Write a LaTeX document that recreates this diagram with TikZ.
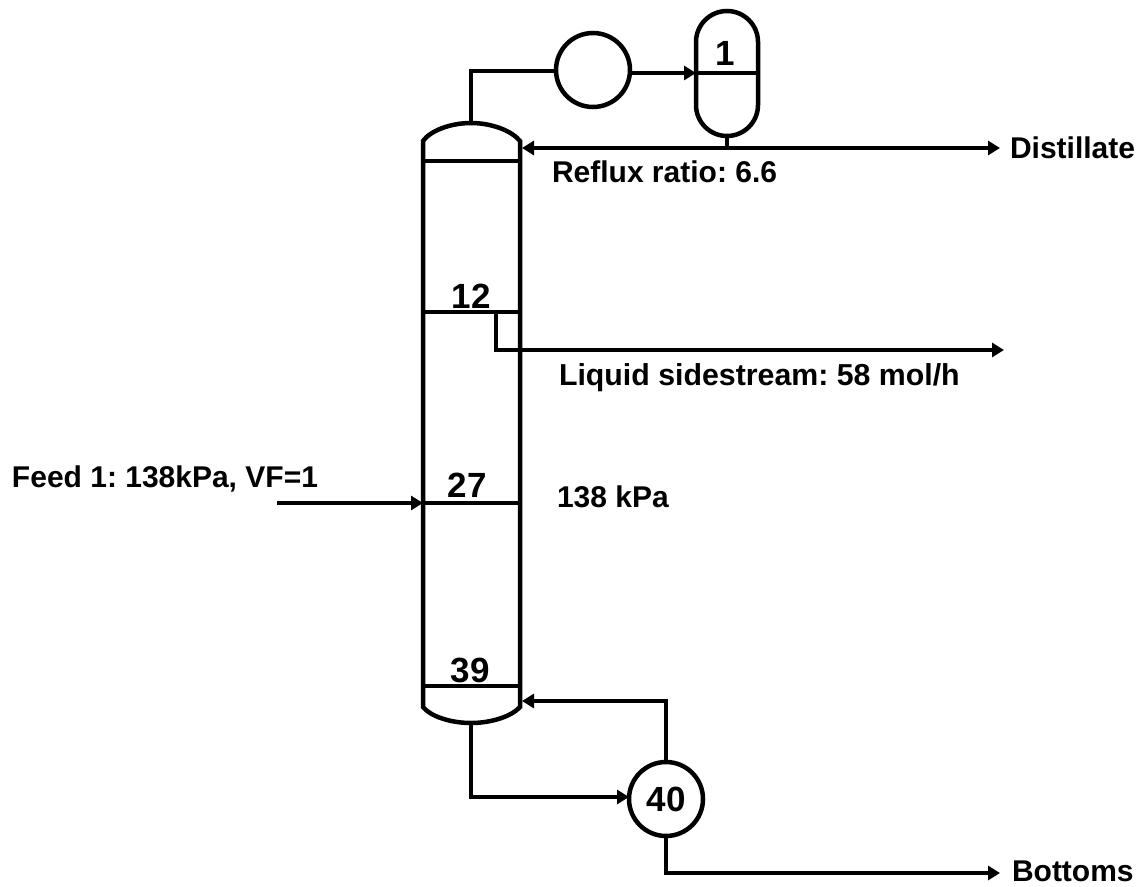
\documentclass[tikz,border=0pt]{standalone}
\usepackage{fontspec}
\setmainfont{Liberation Sans}
\usetikzlibrary{arrows.meta}
\tikzset{
  x=1pt,y=-1pt,
  unit/.style={line width=4.5pt,line join=miter},
  pipe/.style={line width=4.4pt,line join=miter},
  flow/.style={pipe,-{Triangle[length=12pt,width=14pt]}},
  exch/.style={circle,draw,line width=4.5pt,minimum size=74pt,inner sep=0pt,outer sep=0pt,font=\fontsize{35}{35}\bfseries},
  lab/.style={inner sep=0pt,outer sep=0pt,anchor=base west,font=\fontsize{30}{30}\bfseries},
  traylab/.style={inner sep=0pt,outer sep=0pt,anchor=base,font=\fontsize{35}{35}\bfseries}
}
\frenchspacing
\begin{document}
\begin{tikzpicture}
\useasboundingbox (0,0) rectangle (1140,886);
% column
\coordinate (colT) at (471,123);
\coordinate (colB) at (471,723);
\draw[unit] (423,161) -- (423,141) .. controls (430,131) and (450,123) .. (colT) .. controls (492,123) and (512,131) .. (520,141) -- (520,707) .. controls (512,716) and (492,723) .. (colB) .. controls (450,723) and (430,716) .. (423,707) -- cycle;
\coordinate (t1L) at (423,161); \coordinate (t1R) at (520,161);
\coordinate (t12L) at (423,312); \coordinate (t12R) at (520,312);
\coordinate (t27L) at (423,503); \coordinate (t27R) at (520,503);
\coordinate (t39L) at (423,686); \coordinate (t39R) at (520,686);
\draw[unit] (t1L) -- (t1R) (t12L) -- (t12R) (t27L) -- (t27R) (t39L) -- (t39R);
\node[traylab] (n12) at (471,308) {12};
\node[traylab] (n27) at (467,497) {27};
\node[traylab] (n39) at (470,682) {39};
% condenser
\node[exch] (cond) at (593,70) {};
\coordinate (ovh) at (471,71);
\draw[pipe] (colT) -- (ovh) -- (cond.west |- ovh);
% drum
\coordinate (drumL) at (696,73);
\coordinate (drumR) at (758,73);
\coordinate (drumB) at (727,136);
\draw[unit] (696,42) arc[start angle=180,end angle=360,x radius=31,y radius=31] -- (758,105) arc[start angle=0,end angle=180,x radius=31,y radius=31] -- cycle;
\draw[unit] (drumL) -- (drumR);
\node[traylab] (n1) at (725,65) {1};
\draw[flow] (cond.east |- drumL) -- (drumL);
% distillate / reflux
\coordinate (rj) at (727,148);
\coordinate (rin) at (522,148);
\coordinate (dout) at (1000,148);
\draw[pipe] (drumB) -- (rj);
\draw[flow] (rj) -- (rin);
\draw[flow] (rj) -- (dout);
\node[lab] (dist) at (1010,158) {Distillate};
\node[lab] (rr) at (552,182) {Reflux ratio: 6.6};
% sidestream
\coordinate (s1) at (496,312);
\coordinate (s2) at (496,350);
\coordinate (s3) at (1004,350);
\draw[flow] (s1) -- (s2) -- (s3);
\node[lab] (ss) at (559,385) {\fontsize{30.3}{30.3}\bfseries Liquid sidestream: 58 mol/h};
% feed
\coordinate (f1) at (277,503);
\node[lab] (feed) at (12,487) {Feed 1: 138kPa, VF=1};
\draw[flow] (f1) -- (t27L);
\node[lab] (p) at (557,507) {138 kPa};
% reboiler
\node[exch] (reb) at (666,799) {40};
\coordinate (bp) at (471,797);
\coordinate (rt) at (666,701);
\coordinate (rtin) at (522,701);
\coordinate (bt) at (666,873);
\coordinate (bo) at (1000,873);
\draw[flow] (colB) -- (bp) -- (reb.west |- bp);
\draw[flow] (reb.north) -- (rt) -- (rtin);
\draw[flow] (reb.south) -- (bt) -- (bo);
\node[lab] (bot) at (1012,881) {Bottoms};
\end{tikzpicture}
\end{document}
